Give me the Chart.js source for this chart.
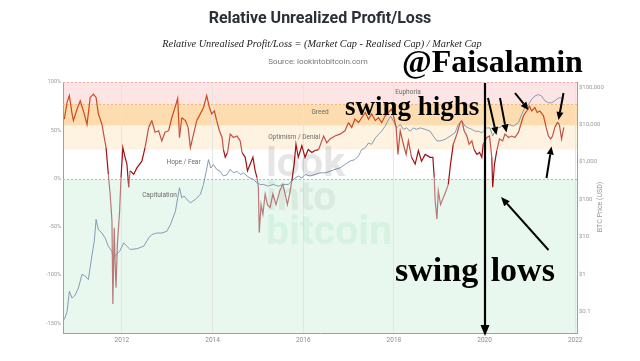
<!DOCTYPE html>
<html><head><meta charset="utf-8">
<script src="https://cdn.jsdelivr.net/npm/chart.js@4.4.0/dist/chart.umd.min.js"></script>
<style>
html,body{margin:0;padding:0;background:#fff;}
#wrap{position:relative;width:640px;height:361px;overflow:hidden;font-family:Roboto,"Noto Sans",sans-serif;}
#c{position:absolute;left:0;top:0;}
.t{position:absolute;white-space:nowrap;line-height:1;}
.serif{font-family:"Liberation Serif","Times New Roman","DejaVu Serif",serif;font-weight:700;color:#000;}
.wm{position:absolute;white-space:nowrap;line-height:1;font-family:Roboto,sans-serif;font-weight:700;font-size:41px;pointer-events:none;}
svg{position:absolute;left:0;top:0;}
</style></head>
<body><div id="wrap">
<canvas id="c" width="640" height="361"></canvas>
<div class="wm" style="left:266px;top:141.5px;color:rgba(0,0,0,0.10)">look</div>
<div class="wm" style="left:266px;top:175.5px;color:rgba(60,80,70,0.08)">into</div>
<div class="wm" style="left:266px;top:209.5px;color:rgba(60,210,120,0.10)">bitcoin</div>
<div class="t" style="left:320px;top:18px;transform:translate(-50%,-50%);font-size:16px;font-weight:700;color:#2b2f36">Relative Unrealized Profit/Loss</div>
<div class="t" style="left:322px;top:44px;transform:translate(-50%,-50%);font-family:'Liberation Serif','DejaVu Serif',serif;font-style:italic;font-size:10.3px;color:#222">Relative Unrealised Profit/Loss = (Market Cap - Realised Cap) / Market Cap</div>
<div class="t" style="left:318px;top:62px;transform:translate(-50%,-50%);font-size:8px;color:#777">Source: lookintobitcoin.com</div>
<div class="t serif" style="left:402px;top:45px;font-size:32px">@Faisalamin</div>
<div class="t serif" style="left:345px;top:93px;font-size:27px">swing highs</div>
<div class="t serif" style="left:395px;top:253px;font-size:34px;word-spacing:4px">swing lows</div>
<div class="t" style="left:600px;top:207px;transform:translate(-50%,-50%) rotate(-90deg);font-size:7px;color:#999">BTC Price (USD)</div>
<svg id="arrows" width="640" height="361"></svg>
</div>
<script>
// ---- data ----
const RUPL_DATES = [2010.73,2010.79,2010.84,2010.90,2010.93,2011.01,2011.08,2011.15,2011.23,2011.30,2011.37,2011.43,2011.48,2011.56,2011.61,2011.65,2011.70,2011.74,2011.78,2011.80,2011.83,2011.85,2011.87,2011.90,2011.95,2011.98,2012.02,2012.07,2012.11,2012.15,2012.18,2012.26,2012.33,2012.44,2012.51,2012.59,2012.66,2012.73,2012.81,2012.88,2012.95,2013.03,2013.10,2013.18,2013.23,2013.27,2013.32,2013.40,2013.46,2013.51,2013.58,2013.65,2013.73,2013.80,2013.87,2013.93,2013.98,2014.04,2014.09,2014.15,2014.21,2014.24,2014.28,2014.33,2014.39,2014.46,2014.54,2014.61,2014.65,2014.72,2014.77,2014.83,2014.89,2014.94,2014.98,2015.01,2015.03,2015.07,2015.11,2015.16,2015.21,2015.27,2015.33,2015.40,2015.48,2015.55,2015.60,2015.65,2015.70,2015.75,2015.80,2015.84,2015.89,2015.97,2016.04,2016.11,2016.19,2016.26,2016.34,2016.41,2016.45,2016.52,2016.59,2016.70,2016.81,2016.92,2017.00,2017.07,2017.14,2017.22,2017.29,2017.37,2017.44,2017.51,2017.59,2017.66,2017.73,2017.81,2017.88,2017.95,2017.99,2018.05,2018.09,2018.14,2018.21,2018.27,2018.32,2018.39,2018.47,2018.54,2018.61,2018.69,2018.80,2018.86,2018.89,2018.91,2018.95,2018.98,2019.03,2019.09,2019.15,2019.20,2019.25,2019.31,2019.39,2019.46,2019.50,2019.55,2019.61,2019.66,2019.72,2019.77,2019.83,2019.89,2019.94,2019.97,2020.05,2020.11,2020.16,2020.18,2020.22,2020.27,2020.33,2020.40,2020.45,2020.53,2020.60,2020.67,2020.75,2020.80,2020.86,2020.93,2020.99,2021.04,2021.11,2021.16,2021.22,2021.30,2021.36,2021.41,2021.46,2021.50,2021.55,2021.61,2021.65,2021.70,2021.75];
const RUPL_VALUES = [61.5,79,86,67,60,72,80.6,70,56,84,87.5,84,67,56,42.5,32,4.5,-16,-44,-130,-51,-89,-113,-68,-33,1,32,22,15,-9,8,4.5,11,18,32,53,60,48,49.5,39,48,49.5,63,75,83,42.5,63,60,53,32,46,60,67,73.6,86,73.6,67,70,60,49.5,42.5,30,22,27,46,42.5,44,39,27,22,8,15,22,8,1,-9,-56,-27,-37,-16,-27,-30,-16,-27,-13,-6,-16,-27,-16,-2,15,35.5,22,34,22,30,27,29,30,39,44,37,41,44,46,49.5,58,53,61.5,58,63,68.5,61.5,67,60,63,58,65,68.5,72,65,53,25,49.5,35.5,25,39,22,15,29,18,25,22,22,1,-23,-42,-13,-27,-20,-13,-6,15,35.5,46,58,60,49.5,44,35.5,39,30,25,27,22,35.5,42.5,44,22,-9,15,29,41,39,46,42.5,44,42.5,48,56,65,70,75,70,73.6,68.5,70,65,53,44,41,44,53,58,56,41,53];
const PRICE_DATES = [2010.73,2010.79,2010.84,2010.90,2010.97,2011.04,2011.12,2011.19,2011.26,2011.34,2011.39,2011.43,2011.48,2011.56,2011.63,2011.70,2011.78,2011.81,2011.87,2011.95,2012.04,2012.11,2012.18,2012.33,2012.48,2012.59,2012.66,2012.77,2012.88,2012.99,2013.07,2013.18,2013.23,2013.27,2013.32,2013.37,2013.47,2013.51,2013.62,2013.73,2013.80,2013.86,2013.91,2013.96,2014.02,2014.09,2014.17,2014.24,2014.32,2014.39,2014.46,2014.54,2014.61,2014.68,2014.76,2014.83,2014.90,2014.98,2015.05,2015.12,2015.23,2015.34,2015.45,2015.56,2015.67,2015.75,2015.82,2015.89,2015.97,2016.04,2016.15,2016.26,2016.37,2016.48,2016.59,2016.70,2016.81,2016.92,2017.03,2017.14,2017.22,2017.29,2017.37,2017.44,2017.51,2017.59,2017.66,2017.73,2017.81,2017.88,2017.93,2017.99,2018.06,2018.14,2018.21,2018.28,2018.36,2018.43,2018.50,2018.58,2018.69,2018.80,2018.87,2018.95,2019.02,2019.13,2019.24,2019.35,2019.42,2019.50,2019.57,2019.64,2019.72,2019.79,2019.86,2019.94,2020.05,2020.12,2020.18,2020.23,2020.30,2020.41,2020.52,2020.64,2020.75,2020.82,2020.89,2020.97,2021.04,2021.11,2021.19,2021.26,2021.33,2021.41,2021.48,2021.55,2021.63,2021.70,2021.75];
const PRICE_VALUES = [0.062,0.10,0.35,0.23,0.28,0.43,1.0,0.89,0.72,3.3,7.6,29,15.5,12.6,9.3,5.6,4.1,2.45,3.3,4.1,6.9,5.6,4.6,4.8,5.6,9.3,11.5,12.6,12.6,14,21,48,110,204,110,123,89,81,100,135,250,560,1150,690,850,630,560,420,460,630,510,560,460,510,420,370,340,275,250,250,225,250,225,250,250,310,370,420,370,460,420,460,510,510,560,630,690,850,1050,1150,1450,2140,2400,3200,2950,4370,5400,6600,9100,13500,16600,12300,8100,10000,7400,8100,6600,8100,7400,8100,7400,6600,4900,3630,3630,4000,4900,6000,10000,12300,9100,8100,7400,6600,6600,6000,8100,8100,4900,6600,8100,9100,10000,9100,11200,18600,28000,34000,47000,57500,63000,57500,42700,38000,38000,42700,51300,51300,47000];
const YEAR_TICKS = [2012,2014,2016,2018,2020,2022];
const PCT_TICKS = [-150,-100,-50,0,50,100];
const PRICE_TICKS = [0.1,1,10,100,1000,10000,100000];
const ZONE_NAMES = ['Capitulation','Hope / Fear','Optimism / Denial','Greed','Euphoria'];
const ZONE_LOWER = [-160,0,30,55,77];
const ZONE_UPPER = [0,30,55,77,100];

const ZONE_COLORS = ['#e8f8ef','#ffffff','#fef3e1','#fddcb0','#fde4e5'];
const ZONE_LABEL_POS = [[2012.83,-17.3,'center'],[2013.36,16.9,'center'],[2015.80,42.2,'center'],[2016.37,68.5,'center'],[2018.03,89.2,'left']];
const DASHES = [[0,'#8fd6a8'],[77,'#f3b776'],[100,'#f2a9ab']];

function segColor(v){
  if (v >= 55) return '#cc4b1e';
  if (v >= 30) return '#c1524a';
  if (v >= 0) return '#a3100f';
  return '#b77a78';
}

const zonePlugin = {
  id:'zones',
  beforeDraw(chart){
    const {ctx, chartArea:a, scales:{y}} = chart;
    ctx.save();
    for (let i=0;i<ZONE_NAMES.length;i++){
      const t = y.getPixelForValue(ZONE_UPPER[i]), b = y.getPixelForValue(ZONE_LOWER[i]);
      ctx.fillStyle = ZONE_COLORS[i];
      ctx.fillRect(a.left, t, a.right-a.left, b-t);
    }
    ctx.restore();
  },
  beforeDatasetsDraw(chart){
    const {ctx, chartArea:a, scales:{x,y}} = chart;
    ctx.save();
    ctx.lineWidth = 1;
    ctx.setLineDash([2,2]);
    DASHES.forEach(([v,c])=>{
      const py = Math.round(y.getPixelForValue(v))+0.5;
      ctx.strokeStyle = c;
      ctx.beginPath(); ctx.moveTo(a.left,py); ctx.lineTo(a.right,py); ctx.stroke();
    });
    ctx.setLineDash([]);
    ctx.font = '6.5px Roboto, sans-serif';
    ctx.fillStyle = '#6b6b6b';
    ctx.textBaseline = 'middle';
    ZONE_NAMES.forEach((n,i)=>{
      const [xv,yv,al] = ZONE_LABEL_POS[i];
      ctx.textAlign = al;
      ctx.fillText(n, x.getPixelForValue(xv), y.getPixelForValue(yv));
    });
    ctx.restore();
  }
};

const tickFont = (s)=>({size:s, family:'Roboto, sans-serif'});

new Chart(document.getElementById('c'), {
  type:'line',
  data:{datasets:[
    {label:'Relative Unrealized Profit/Loss', data: RUPL_DATES.map((d,i)=>({x:d,y:RUPL_VALUES[i]})), yAxisID:'y',
     borderColor:'#b02020', borderWidth:1.2, pointRadius:0, tension:0, order:0,
     segment:{borderColor: c => segColor((c.p0.parsed.y + c.p1.parsed.y)/2)}},
    {label:'BTC Price', data: PRICE_DATES.map((d,i)=>({x:d,y:PRICE_VALUES[i]})), yAxisID:'y1',
     borderColor:'#7891b0', borderWidth:0.9, pointRadius:0, tension:0, order:1}
  ]},
  options:{
    responsive:false, animation:false, devicePixelRatio:1,
    layout:{padding:{left:33,right:23,top:82,bottom:8}},
    plugins:{legend:{display:false}, tooltip:{enabled:false}, title:{display:false}},
    scales:{
      x:{type:'linear', min:2010.7, max:2022.04,
         afterBuildTicks:s=>{s.ticks = YEAR_TICKS.map(v=>({value:v}));},
         afterFit:s=>{s.height=20;},
         ticks:{callback:v=>String(v), color:'#8c8c8c', font:tickFont(6.5), padding:3, maxRotation:0, autoSkip:false},
         grid:{color:'#e4e4e4', lineWidth:1, drawTicks:false},
         border:{color:'#a0a0a0', width:1}},
      y:{type:'linear', position:'left', min:-160, max:100,
         afterBuildTicks:s=>{s.ticks = PCT_TICKS.map(v=>({value:v}));},
         afterFit:s=>{s.width=30;},
         ticks:{callback:v=>v+'%', color:'#9a9a9a', font:tickFont(5.5), padding:2, autoSkip:false},
         grid:{display:false, drawTicks:false},
         border:{color:'#a0a0a0', width:1}},
      y1:{type:'logarithmic', position:'right', min:0.027, max:136000,
         afterBuildTicks:s=>{s.ticks = PRICE_TICKS.map(v=>({value:v}));},
         afterFit:s=>{s.width=40;},
         ticks:{callback:v=>'$'+Number(v).toLocaleString('en-US'), color:'#9a9a9a', font:tickFont(6), padding:2, autoSkip:false},
         grid:{display:false, drawTicks:false},
         border:{color:'#a0a0a0', width:1}}
    }
  },
  plugins:[zonePlugin]
});

// ---- hand-drawn annotation arrows (overlay) ----
const ARROWS = [
  [485,83,485,336,2.2,11,9],
  [488,98,496.5,135,2,8,7],
  [500,98,506.5,132.5,2,8,7],
  [515,93,528.5,110,2,8,7],
  [563.5,93,558.5,120,2,8,7],
  [546.5,178,551.5,146.5,2,8,7],
  [548.5,250,501,197,2,9,7.5]
];
const svg = document.getElementById('arrows');
let out = '';
ARROWS.forEach(([x1,y1,x2,y2,w,hl,hw])=>{
  const dx=x2-x1, dy=y2-y1, L=Math.hypot(dx,dy), ux=dx/L, uy=dy/L;
  const bx=x2-ux*hl, by=y2-uy*hl, px=-uy*hw/2, py=ux*hw/2;
  out += `<line x1="${x1}" y1="${y1}" x2="${bx}" y2="${by}" stroke="#000" stroke-width="${w}"/>`;
  out += `<polygon points="${x2},${y2} ${bx+px},${by+py} ${bx-px},${by-py}" fill="#000"/>`;
});
svg.innerHTML = out;
</script>
</body></html>
